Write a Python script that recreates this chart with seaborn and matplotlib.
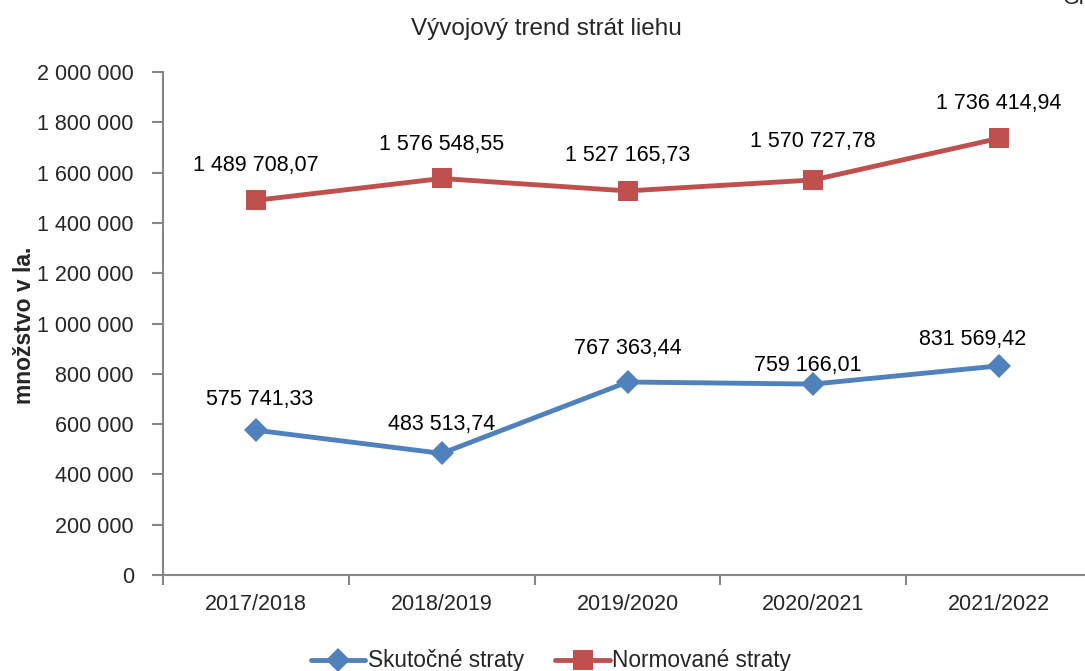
# Vývojový trend strát liehu - skutočné vs. normované straty

# %%
import pandas as pd
import seaborn as sns
import matplotlib.pyplot as plt
from matplotlib.ticker import FixedLocator, FuncFormatter

# %%
# Data
roky = ['2017/2018', '2018/2019', '2019/2020', '2020/2021', '2021/2022']
skutocne = [575741.33, 483513.74, 767363.44, 759166.01, 831569.42]
normovane = [1489708.07, 1576548.55, 1527165.73, 1570727.78, 1736414.94]
nazvy = ['Skutočné straty', 'Normované straty']

df = pd.DataFrame({
    'rok': roky * 2,
    'hodnota': skutocne + normovane,
    'typ': [nazvy[0]] * len(roky) + [nazvy[1]] * len(roky),
})

# %%
sns.set_theme(style='white')
plt.rcParams['font.family'] = ['Liberation Sans', 'DejaVu Sans']

fs = 15.5
gray = '#868686'
blue = '#4F81BD'
red = '#C0504D'

fig = plt.figure(figsize=(10.85, 6.71), dpi=100)
ax = fig.add_axes([163 / 1085, 1 - 575 / 671, (1092 - 163) / 1085, (575 - 72) / 671])

sns.lineplot(data=df, x='rok', y='hodnota', hue='typ', style='typ',
             palette={nazvy[0]: blue, nazvy[1]: red},
             markers={nazvy[0]: 'D', nazvy[1]: 's'}, dashes=False,
             markersize=14, markeredgewidth=0, linewidth=3.5,
             sort=False, ax=ax, legend=False)
for line, ms in zip(ax.lines, [12, 14.5]):
    line.set_markersize(ms)

ax.set_xlim(-0.5, len(roky) - 0.5)
ax.set_ylim(0, 2000000)
ax.set_yticks(range(0, 2000001, 200000))
ax.yaxis.set_major_formatter(FuncFormatter(lambda v, p: f"{v:,.0f}".replace(',', ' ')))
ax.set_xticks(range(len(roky)))
ax.set_xticklabels(roky)
ax.xaxis.set_minor_locator(FixedLocator([i - 0.5 for i in range(len(roky) + 1)]))

ax.tick_params(axis='y', which='major', length=8, width=1.5, color=gray, pad=13,
               labelsize=fs, left=True, direction='out')
ax.tick_params(axis='x', which='major', length=0, pad=14, labelsize=fs)
ax.tick_params(axis='x', which='minor', length=7, width=1.5, color=gray, bottom=True,
               direction='out')
for s in ['top', 'right']:
    ax.spines[s].set_visible(False)
for s in ['left', 'bottom']:
    ax.spines[s].set_color(gray)
    ax.spines[s].set_linewidth(1.5)
ax.set_xlabel('')
ax.set_ylabel('')

# %%
# data labels (posun v pixeloch)
def fmt(v):
    return f"{v:,.2f}".replace(',', ' ').replace('.', ',')

posun_skut = [(4, 31), (0, 29), (0, 34), (-6, 19), (-26, 26)]
posun_norm = [(0, 35), (0, 34), (0, 35), (0, 38), (0, 35)]
for i, (a, b) in enumerate(zip(skutocne, normovane)):
    ax.annotate(fmt(a), (i, a), xytext=posun_skut[i], textcoords='offset pixels',
                ha='center', va='center', fontsize=fs, color='black')
    ax.annotate(fmt(b), (i, b), xytext=posun_norm[i], textcoords='offset pixels',
                ha='center', va='center', fontsize=fs, color='black')

fig.text(546 / 1085, 1 - 29 / 671, 'Vývojový trend strát liehu', ha='center', va='center',
         fontsize=17.5)
fig.text(25 / 1085, 1 - 325 / 671, 'množstvo v la.', rotation=90, ha='center', va='center',
         fontsize=16.5, fontweight='bold')
fig.text(1063 / 1085, 1 + 1 / 671, 'Gr', ha='left', va='center', fontsize=fs)

handles = [plt.Line2D([], [], color=blue, lw=3.5, marker='D', ms=12, mew=0),
           plt.Line2D([], [], color=red, lw=3.5, marker='s', ms=14.5, mew=0)]
fig.legend(handles, nazvy, loc='center', bbox_to_anchor=(551 / 1085, 1 - 661 / 671),
           ncol=2, frameon=False, fontsize=16.3, handlelength=2.4, handletextpad=0.1,
           columnspacing=1.4)

fig.savefig('out.png', dpi=100)
